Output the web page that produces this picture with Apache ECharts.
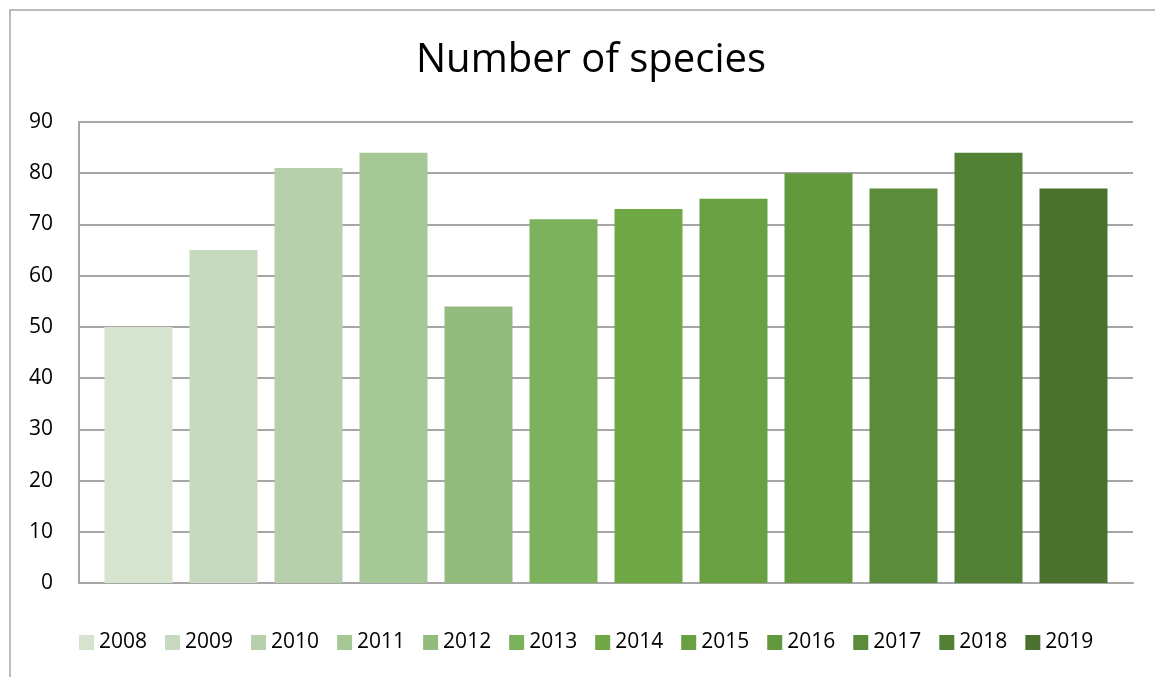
<!DOCTYPE html>
<html>
<head>
<meta charset="utf-8">
<script src="https://cdn.jsdelivr.net/npm/echarts@6/dist/echarts.min.js"></script>
<style>html,body{margin:0;padding:0;background:#fff}#c{width:1155px;height:677px}</style>
</head>
<body>
<div id="c"></div>
<script>
const years = ['2008','2009','2010','2011','2012','2013','2014','2015','2016','2017','2018','2019'];
const speciesCounts = [50, 65, 81, 84, 54, 71, 73, 75, 80, 77, 84, 77];
const barColors = ['#D6E3CE','#C7D9BE','#B7CFAB','#A6C796','#93BB7E','#7DB25C','#70A845','#69A041','#62993C','#5B8C3B','#528034','#4A712E'];
const yTicks = { min: 0, max: 90, interval: 10 };

const chart = echarts.init(document.getElementById('c'), null, {renderer: 'canvas'});
const font = '"Open Sans", sans-serif';
const series = years.map((y, i) => ({
  name: y,
  type: 'bar',
  data: [speciesCounts[i]],
  barWidth: 68,
  barGap: '25%',
  itemStyle: { color: barColors[i] },
  emphasis: { disabled: true }
}));
chart.setOption({
  animation: false,
  backgroundColor: '#fff',
  title: {
    text: 'Number of species',
    left: 586,
    textAlign: 'center',
    top: 36,
    textStyle: { fontFamily: font, fontSize: 40, fontWeight: 'normal', color: '#000' }
  },
  legend: {
    data: years,
    left: 74,
    top: 627,
    itemWidth: 15,
    itemHeight: 15,
    itemGap: 18,
    icon: 'rect',
    textStyle: { fontFamily: font, fontSize: 21, color: '#000' }
  },
  grid: { left: 79, right: 22, top: 122, bottom: 94, containLabel: false },
  xAxis: {
    type: 'category',
    data: [''],
    axisLine: { lineStyle: { color: '#A6A6A6', width: 2 } },
    axisTick: { show: false },
    axisLabel: { show: false }
  },
  yAxis: {
    type: 'value',
    min: yTicks.min, max: yTicks.max, interval: yTicks.interval,
    axisLine: { show: true, lineStyle: { color: '#A6A6A6', width: 2 } },
    axisTick: { show: false },
    splitLine: { lineStyle: { color: '#A6A6A6', width: 2 } },
    axisLabel: { fontFamily: font, fontSize: 21, color: '#000', margin: 26 }
  },
  graphic: [
    { type: 'polyline', shape: { points: [[10, 700], [10, 10], [1200, 10]] }, style: { stroke: '#A6A6A6', lineWidth: 1.5, fill: null } }
  ],
  series: series
});
</script>
</body>
</html>
